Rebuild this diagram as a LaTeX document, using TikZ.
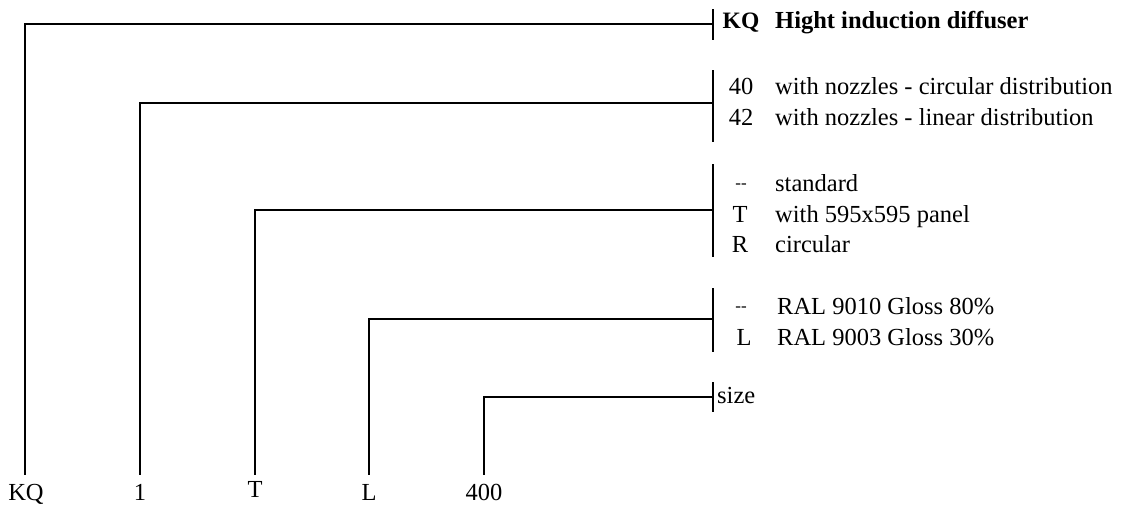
\documentclass[tikz,border=0pt]{standalone}
\usepackage{fontspec}
\setmainfont{Liberation Serif}
\begin{document}
\begin{tikzpicture}[x=1pt,y=-1pt,
  conn/.style={line width=1.8pt},
  barline/.style={line width=1.8pt},
  lbl/.style={inner sep=0pt, font=\fontsize{24.5}{28}\selectfont},
  bottomlbl/.style={lbl, anchor=base, text height=14pt, inner ysep=11pt},
  code/.style={lbl, anchor=base},
  desc/.style={lbl, anchor=base west},
  dashcode/.style={lbl, anchor=base, font=\fontsize{17}{20}\selectfont}]
\useasboundingbox (0,0) rectangle (1132,504);

% bottom labels
\node[bottomlbl] (bKQ) at (26,500) {KQ};
\node[bottomlbl] (b1) at (140,500) {1};
\node[bottomlbl] (bT) at (255,497) {T};
\node[bottomlbl] (bL) at (369,500) {L};
\node[bottomlbl] (b400) at (484,500) {400};

% bars and junctions
\draw[barline] (713,9) -- (713,40);
\coordinate (j1) at (713,24);
\draw[barline] (713,70) -- (713,142);
\coordinate (j2) at (713,103);
\draw[barline] (713,164) -- (713,257);
\coordinate (j3) at (713,210);
\draw[barline] (713,288) -- (713,352);
\coordinate (j4) at (713,319);
\draw[barline] (713,382) -- (713,412);
\coordinate (j5) at (713,397);

% connectors
\draw[conn] ([xshift=-1pt]bKQ.north) |- (j1);
\draw[conn] (b1.north) |- (j2);
\draw[conn] ([yshift=-3pt]bT.north) |- (j3);
\draw[conn] (bL.north) |- (j4);
\draw[conn] (b400.north) |- (j5);

% group 1
\node[code, font=\fontsize{23.5}{28}\selectfont\bfseries] (c11) at (741,28) {KQ};
\node[desc, font=\fontsize{24.5}{28}\selectfont\bfseries] (d11) at (775,28) {Hight induction diffuser};

% group 2
\node[code] (c21) at (741,94) {40};
\node[desc] (d21) at (775,94) {with nozzles - circular distribution};
\node[code] (c22) at (741,125) {42};
\node[desc] (d22) at (775,125) {with nozzles - linear distribution};

% group 3
\node[dashcode] (c31) at (741,188) {-{}-};
\node[desc] (d31) at (775,191) {standard};
\node[code] (c32) at (740,222) {T};
\node[desc] (d32) at (775,222) {with 595x595 panel};
\node[code] (c33) at (740,252) {R};
\node[desc] (d33) at (775,252) {circular};

% group 4
\node[dashcode] (c41) at (741,311) {-{}-};
\node[desc] (d41) at (777,314) {RAL 9010 Gloss 80\%};
\node[code] (c42) at (744,345) {L};
\node[desc] (d42) at (777,345) {RAL 9003 Gloss 30\%};

% group 5
\node[desc] (d51) at (717,403) {size};
\end{tikzpicture}
\end{document}
